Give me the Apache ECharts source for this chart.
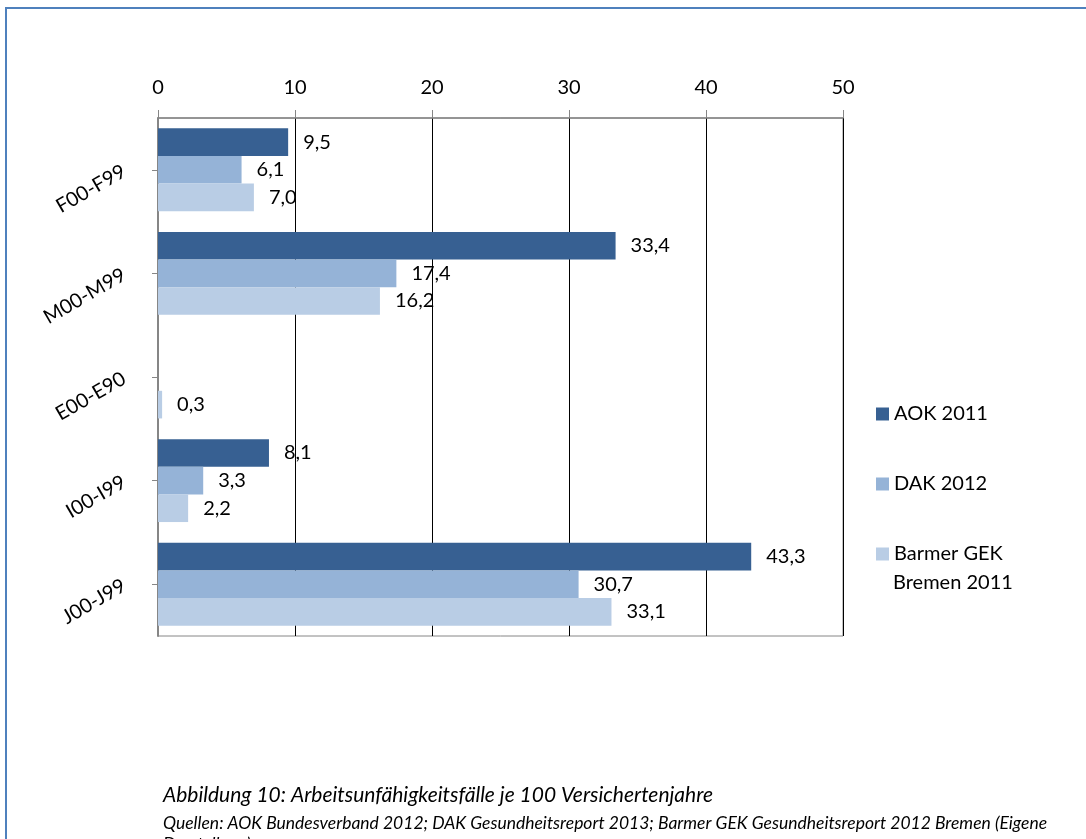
<!DOCTYPE html>
<html>
<head>
<meta charset="utf-8">
<script src="https://cdn.jsdelivr.net/npm/echarts@6/dist/echarts.min.js"></script>
<style>
  html, body { margin: 0; padding: 0; background: #fff; }
  #chart { width: 1086px; height: 839px; }
</style>
</head>
<body>
<div id="chart"></div>
<script>
const categories = ['F00-F99', 'M00-M99', 'E00-E90', 'I00-I99', 'J00-J99']
const seriesNames = ['AOK 2011', 'DAK 2012', 'Barmer GEK Bremen 2011']
const aok2011 = [9.5, 33.4, null, 8.1, 43.3]
const dak2012 = [6.1, 17.4, null, 3.3, 30.7]
const barmer2011 = [7.0, 16.2, 0.3, 2.2, 33.1]
const xTicks = [0, 10, 20, 30, 40, 50]

const colors = ['#376092', '#95b3d7', '#b9cde5']
const font = 'Lato, "Open Sans", sans-serif'

const chart = echarts.init(document.getElementById('chart'))

function makeSeries(name, data, color) {
  return {
    name: name,
    type: 'bar',
    data: data,
    barGap: '0%',
    barCategoryGap: '20%',
    itemStyle: { color: color },
    label: {
      show: true,
      position: 'right',
      distance: 15,
      color: '#000',
      fontFamily: font,
      fontSize: 20,
      formatter: p => p.value.toFixed(1).replace('.', ',')
    },
    animation: false
  }
}

chart.setOption({
  textStyle: { fontFamily: font },
  graphic: [{
    type: 'rect',
    shape: { x: 6, y: 8, width: 1200, height: 1000 },
    style: { fill: 'none', stroke: '#4f81bd', lineWidth: 2 },
    silent: true
  }, {
    // second line of the wrapped legend entry
    type: 'text',
    left: 893,
    top: 573,
    style: { text: 'Bremen 2011', fontFamily: font, fontSize: 20, fill: '#000' },
    silent: true
  }],
  title: [{
    text: 'Abbildung 10: Arbeitsunfähigkeitsfälle je 100 Versichertenjahre',
    left: 158,
    top: 780,
    textStyle: { fontFamily: font, fontStyle: 'italic', fontWeight: 'normal', fontSize: 21, color: '#000' }
  }, {
    text: 'Quellen: AOK Bundesverband 2012; DAK Gesundheitsreport 2013; Barmer GEK Gesundheitsreport 2012 Bremen (Eigene\nDarstellung)',
    left: 158,
    top: 808,
    textStyle: { fontFamily: font, fontStyle: 'italic', fontWeight: 'normal', fontSize: 17.5, lineHeight: 21, color: '#000' }
  }],
  legend: {
    orient: 'vertical',
    left: 871,
    top: 394,
    itemWidth: 13,
    itemHeight: 13,
    itemGap: 40,
    icon: 'rect',
    selectedMode: false,
    textStyle: { fontFamily: font, fontSize: 20, color: '#000', lineHeight: 30 },
    formatter: name => name === seriesNames[2] ? 'Barmer GEK' : name,
    data: seriesNames
  },
  grid: {
    left: 158,
    right: 243,
    top: 118,
    bottom: 203,
    show: true,
    borderColor: '#868686',
    borderWidth: 1
  },
  xAxis: {
    type: 'value',
    position: 'top',
    min: xTicks[0],
    max: xTicks[xTicks.length - 1],
    interval: 10,
    axisLine: { show: true, lineStyle: { color: '#868686', width: 1.5 } },
    axisTick: { show: true, length: 8, lineStyle: { color: '#868686' } },
    axisLabel: { margin: 20, fontFamily: font, fontSize: 20, color: '#000' },
    splitLine: { show: true, lineStyle: { color: '#000', width: 1 } }
  },
  yAxis: {
    type: 'category',
    data: categories,
    inverse: true,
    axisLine: { show: true, lineStyle: { color: '#868686', width: 2 } },
    axisTick: { show: true, alignWithLabel: true, length: 6, lineStyle: { color: '#868686' } },
    axisLabel: { rotate: 30, margin: 34, fontFamily: font, fontSize: 20, color: '#000' },
    splitLine: { show: false }
  },
  series: [
    makeSeries(seriesNames[0], aok2011, colors[0]),
    makeSeries(seriesNames[1], dak2012, colors[1]),
    makeSeries(seriesNames[2], barmer2011, colors[2])
  ]
})
</script>
</body>
</html>
